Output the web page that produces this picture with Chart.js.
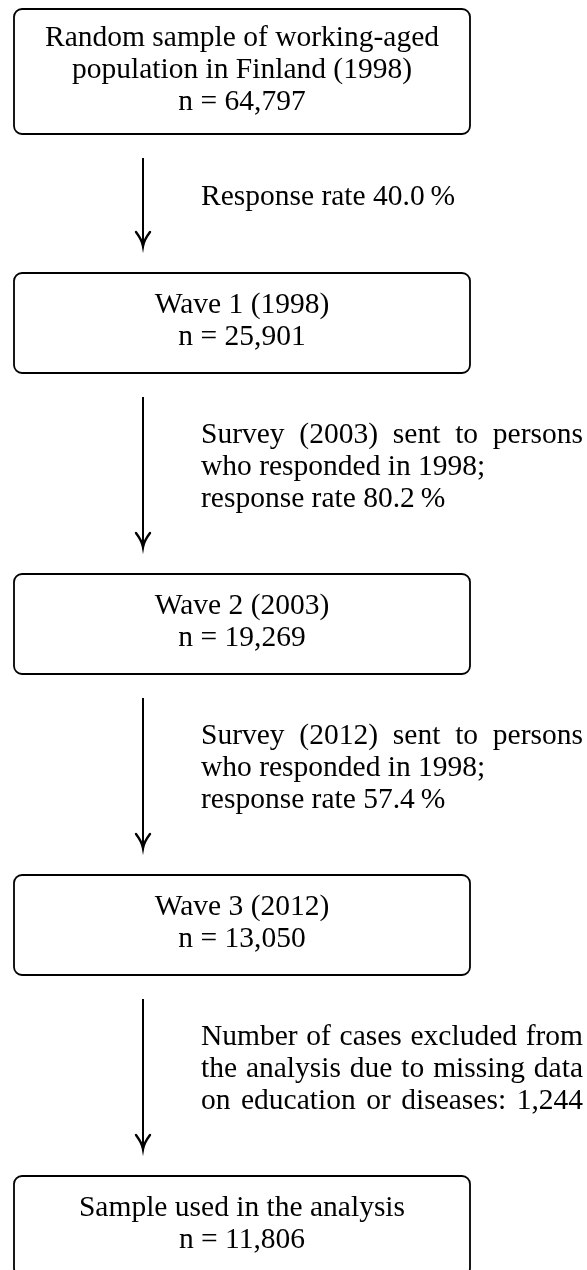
<!DOCTYPE html>
<html>
<head>
<meta charset="utf-8">
<script src="https://cdn.jsdelivr.net/npm/chart.js@4.4.1/dist/chart.umd.min.js"></script>
<style>
html,body{margin:0;padding:0;background:#fff}
#wrap{width:587px;height:1270px}
</style>
</head>
<body>
<div id="wrap"><canvas id="flow" width="587" height="1270"></canvas></div>
<script>
// ─── DATA ───────────────────────────────────────────────────────────
const stageTitles = [
  ['Random sample of working-aged','population in Finland (1998)'],
  ['Wave 1 (1998)'],
  ['Wave 2 (2003)'],
  ['Wave 3 (2012)'],
  ['Sample used in the analysis']
];
const stageN = [64797, 25901, 19269, 13050, 11806];
const stepNotes = [
  ['Response rate 40.0\u2009%'],
  ['Survey (2003) sent to persons','who responded in 1998;','response rate 80.2\u2009%'],
  ['Survey (2012) sent to persons','who responded in 1998;','response rate 57.4\u2009%'],
  ['Number of cases excluded from','the analysis due to missing data','on education or diseases: 1,244']
];

// ─── LAYOUT (axis units = px) ───────────────────────────────────────
const W=587, H=1270;
const LINE=32;
const FONT='29.5px "Liberation Serif","Times New Roman",serif';
const BOX_L=14, BOX_R=470, ARROW_X=143, NOTE_X=201, NOTE_R=583;

function fmtN(n){ return String(n).replace(/\B(?=(\d{3})+(?!\d))/g, ','); }

function layout(){
  const boxes=[], arrows=[];
  let y=9;
  stageTitles.forEach((t,i)=>{
    const lines=[...t, 'n = '+fmtN(stageN[i])];
    // boxes have a minimum height, taller text just grows them
    const h=Math.max(100, 29+lines.length*LINE);
    boxes.push({top:y, bottom:y+h, lines});
    y+=h;
    if(i<stepNotes.length){
      const gap=139+(stepNotes[i].length-1)*31;
      arrows.push({from:y+24, to:y+gap-27, lines:stepNotes[i]});
      y+=gap;
    }
  });
  return {boxes, arrows};
}
const L=layout();

// text in the notes column is justified like a LaTeX parbox when a line is nearly full
function noteLine(ctx, s, x0, x1, y){
  const natural=ctx.measureText(s).width;
  const words=s.split(' ');
  if(natural < 0.85*(x1-x0) || words.length<2){ ctx.fillText(s, x0, y); return; }
  const wsum=words.reduce((a,w)=>a+ctx.measureText(w).width,0);
  const gap=(x1-x0-wsum)/(words.length-1);
  let x=x0;
  words.forEach(w=>{ ctx.fillText(w, x, y); x+=ctx.measureText(w).width+gap; });
}

const flowPlugin={
  id:'flow',
  afterDatasetsDraw(chart){
    const ctx=chart.ctx, sx=chart.scales.x, sy=chart.scales.y;
    ctx.save();
    ctx.strokeStyle='#000'; ctx.fillStyle='#000';
    ctx.font=FONT; ctx.textBaseline='alphabetic';
    L.boxes.forEach(b=>{
      const x0=sx.getPixelForValue(BOX_L), x1=sx.getPixelForValue(BOX_R);
      const y0=sy.getPixelForValue(b.top), y1=sy.getPixelForValue(b.bottom);
      ctx.lineWidth=1.8;
      ctx.beginPath();
      ctx.roundRect(x0, y0, x1-x0, y1-y0, 8);
      ctx.stroke();
      const cx=(x0+x1)/2, cy=(y0+y1)/2 + 6;
      ctx.textAlign='center';
      b.lines.forEach((s,k)=>{
        ctx.fillText(s, cx, cy + (k-(b.lines.length-1)/2)*LINE);
      });
    });
    L.arrows.forEach(a=>{
      const x=sx.getPixelForValue(ARROW_X), tip=sy.getPixelForValue(a.to);
      ctx.lineWidth=2.4; ctx.lineCap='round';
      ctx.beginPath();
      ctx.moveTo(x-7, tip-14);
      ctx.quadraticCurveTo(x-1, tip-6, x, tip);
      ctx.quadraticCurveTo(x+1, tip-6, x+7, tip-14);
      ctx.stroke();
      const mid=sy.getPixelForValue((a.from+a.to)/2) + 3;
      ctx.textAlign='left';
      const nx0=sx.getPixelForValue(NOTE_X), nx1=sx.getPixelForValue(NOTE_R);
      a.lines.forEach((s,k)=>{
        noteLine(ctx, s, nx0, nx1, mid + (k-(a.lines.length-1)/2)*LINE);
      });
    });
    ctx.restore();
  }
};

const datasets=[
  {type:'scatter', label:'stages',
   data:L.boxes.map(b=>({x:(BOX_L+BOX_R)/2, y:(b.top+b.bottom)/2})),
   pointRadius:0}
].concat(L.arrows.map((a,i)=>({
  type:'line', label:'step '+(i+1),
  data:[{x:ARROW_X, y:a.from},{x:ARROW_X, y:a.to-1}],
  borderColor:'#000', borderWidth:2, pointRadius:0, fill:false, tension:0
})));

new Chart(document.getElementById('flow'),{
  type:'scatter',
  data:{datasets},
  options:{
    responsive:false, animation:false, events:[],
    layout:{padding:0},
    plugins:{legend:{display:false}, tooltip:{enabled:false}},
    scales:{
      x:{type:'linear', min:0, max:W, display:false},
      y:{type:'linear', min:0, max:H, reverse:true, display:false}
    }
  },
  plugins:[flowPlugin]
});
</script>
</body>
</html>
